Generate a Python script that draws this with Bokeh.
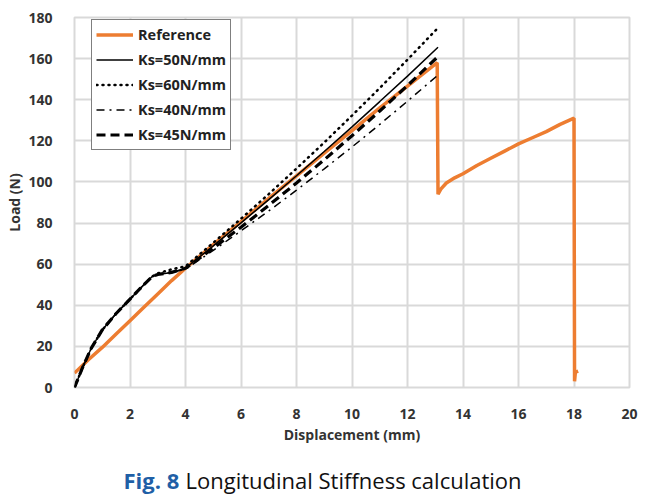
from bokeh.plotting import figure
from bokeh.layouts import column
from bokeh.models import Label, Legend, LegendItem, FixedTicker, Range1d
from bokeh.embed import file_html
from bokeh.resources import INLINE

# ---- data ----
ref_x = [0, 0.5, 1, 1.5, 2, 2.5, 3, 3.5, 4, 5, 6, 7, 8, 9, 10, 11, 12, 13.07,
         13.1, 13.2, 13.4, 13.7, 14, 14.5, 15, 15.5, 16, 16.5, 17, 17.5, 18,
         18.02, 18.05, 18.15]
ref_y = [7, 13.5, 19.5, 26, 32.5, 39, 45.5, 52, 58, 69.5, 80.7, 92, 103, 114, 125, 136, 146.6, 158,
         94, 96.5, 99.5, 102, 104, 108, 111.5, 115, 118.5, 121.5, 124.5, 128, 131,
         3, 7.5, 8]

ks_x = [0, 0.3, 0.6, 1, 1.5, 2, 2.5, 2.8, 3, 3.5, 4, 5, 6, 7, 8, 9, 10, 11, 12, 13.1]
ks50 = [0, 10, 19, 28, 36, 43, 50, 54, 55, 56, 58, 68.9, 80.1, 91.4, 103, 114.8, 126.8, 139.1, 151.5, 165.5]
ks60 = [0, 10, 19, 28, 36, 43, 50, 54, 55.5, 57.5, 59, 70.4, 82.1, 94.1, 106.5, 119.2, 132.3, 145.7, 159.5, 175]
ks40 = [0, 10, 19, 28, 36, 43, 50, 54, 55, 56, 57.5, 66.7, 76.2, 85.9, 96, 106.4, 117, 128, 139.3, 152]
ks45 = [0, 10, 19, 28, 36, 43, 50, 54, 55, 56, 58, 67.8, 78.0, 88.6, 99.5, 110.8, 122.5, 134.5, 146.9, 161]

x_ticks = [0, 2, 4, 6, 8, 10, 12, 14, 16, 18, 20]
y_ticks = [0, 20, 40, 60, 80, 100, 120, 140, 160, 180]

series_labels = ["Reference", "Ks=50N/mm", "Ks=60N/mm", "Ks=40N/mm", "Ks=45N/mm"]
x_title = "Displacement (mm)"
y_title = "Load (N)"
cap_bold = "Fig. 8"
cap_rest = "Longitudinal Stiffness calculation"

ORANGE = "#ED7D31"
FONT = "Open Sans"
LEFT, RIGHT = 74, 28

p = figure(width=657, height=446, output_backend="svg", toolbar_location=None,
           x_range=Range1d(0, 20), y_range=Range1d(0, 180),
           min_border_left=LEFT, min_border_right=RIGHT, min_border_top=17, min_border_bottom=58)
p.background_fill_color = "white"
p.border_fill_color = "white"
p.outline_line_color = "#d9d9d9"
p.outline_line_width = 2

for ax in (p.xaxis, p.yaxis):
    ax.axis_line_color = None
    ax.major_tick_line_color = None
    ax.minor_tick_line_color = None
    ax.major_label_text_font = FONT
    ax.major_label_text_font_style = "bold"
    ax.major_label_text_font_size = "14px"
    ax.major_label_text_color = "#333333"
    ax.axis_label_text_font = FONT
    ax.axis_label_text_font_style = "bold"
    ax.axis_label_text_font_size = "14px"
    ax.axis_label_text_color = "#333333"

p.xaxis.ticker = FixedTicker(ticks=x_ticks)
p.yaxis.ticker = FixedTicker(ticks=y_ticks)
p.xaxis.major_label_standoff = 15
p.yaxis.major_label_standoff = 16
p.xaxis.axis_label = x_title
p.yaxis.axis_label = y_title
p.xaxis.axis_label_standoff = 3
p.yaxis.axis_label_standoff = 1

p.grid.grid_line_color = "#d9d9d9"
p.grid.grid_line_width = 2

r_ref = p.line(ref_x, ref_y, line_color=ORANGE, line_width=3.5)
r50 = p.line(ks_x, ks50, line_color="black", line_width=1.5)
r60 = p.line(ks_x, ks60, line_color="black", line_width=2.5, line_dash="1 5", line_cap="round")
r40 = p.line(ks_x, ks40, line_color="black", line_width=1.5, line_dash="8 5 2 5")
r45 = p.line(ks_x, ks45, line_color="black", line_width=3.2, line_dash="9 5")

legend = Legend(items=[LegendItem(label=series_labels[0], renderers=[r_ref]),
                       LegendItem(label=series_labels[1], renderers=[r50]),
                       LegendItem(label=series_labels[2], renderers=[r60]),
                       LegendItem(label=series_labels[3], renderers=[r40]),
                       LegendItem(label=series_labels[4], renderers=[r45])],
                location=(17, 237))
legend.border_line_color = "black"
legend.border_line_width = 1
legend.background_fill_color = "white"
legend.background_fill_alpha = 1
legend.padding = 4
legend.margin = 0
legend.spacing = 4
legend.label_height = 21
legend.glyph_height = 21
legend.glyph_width = 37
legend.label_width = 88
legend.label_standoff = 5
legend.label_text_font = FONT
legend.label_text_font_style = "bold"
legend.label_text_font_size = "14.5px"
legend.label_text_color = "#222222"
p.add_layout(legend, "center")

# caption strip: frame aligned with the chart frame, coordinates in pixels
cap = figure(width=657, height=52, output_backend="svg", toolbar_location=None, title=None,
             x_range=Range1d(0, 657 - LEFT - RIGHT), y_range=Range1d(0, 52),
             x_axis_type=None, y_axis_type=None,
             min_border_left=LEFT, min_border_right=RIGHT, min_border_top=0, min_border_bottom=0)
cap.outline_line_color = None
cap.grid.visible = False
cap.background_fill_color = "white"
cap.border_fill_color = "white"
cap.add_layout(Label(x=49, y=19, text=cap_bold, text_font=FONT, text_font_style="bold",
                     text_font_size="22px", text_color="#1f5fa6", text_baseline="middle"))
cap.add_layout(Label(x=111, y=19, text=cap_rest, text_font=FONT,
                     text_font_size="22px", text_color="#111111", text_baseline="middle"))

lay = column(p, cap, spacing=0)

open("out.html", "w").write(file_html(lay, INLINE))
